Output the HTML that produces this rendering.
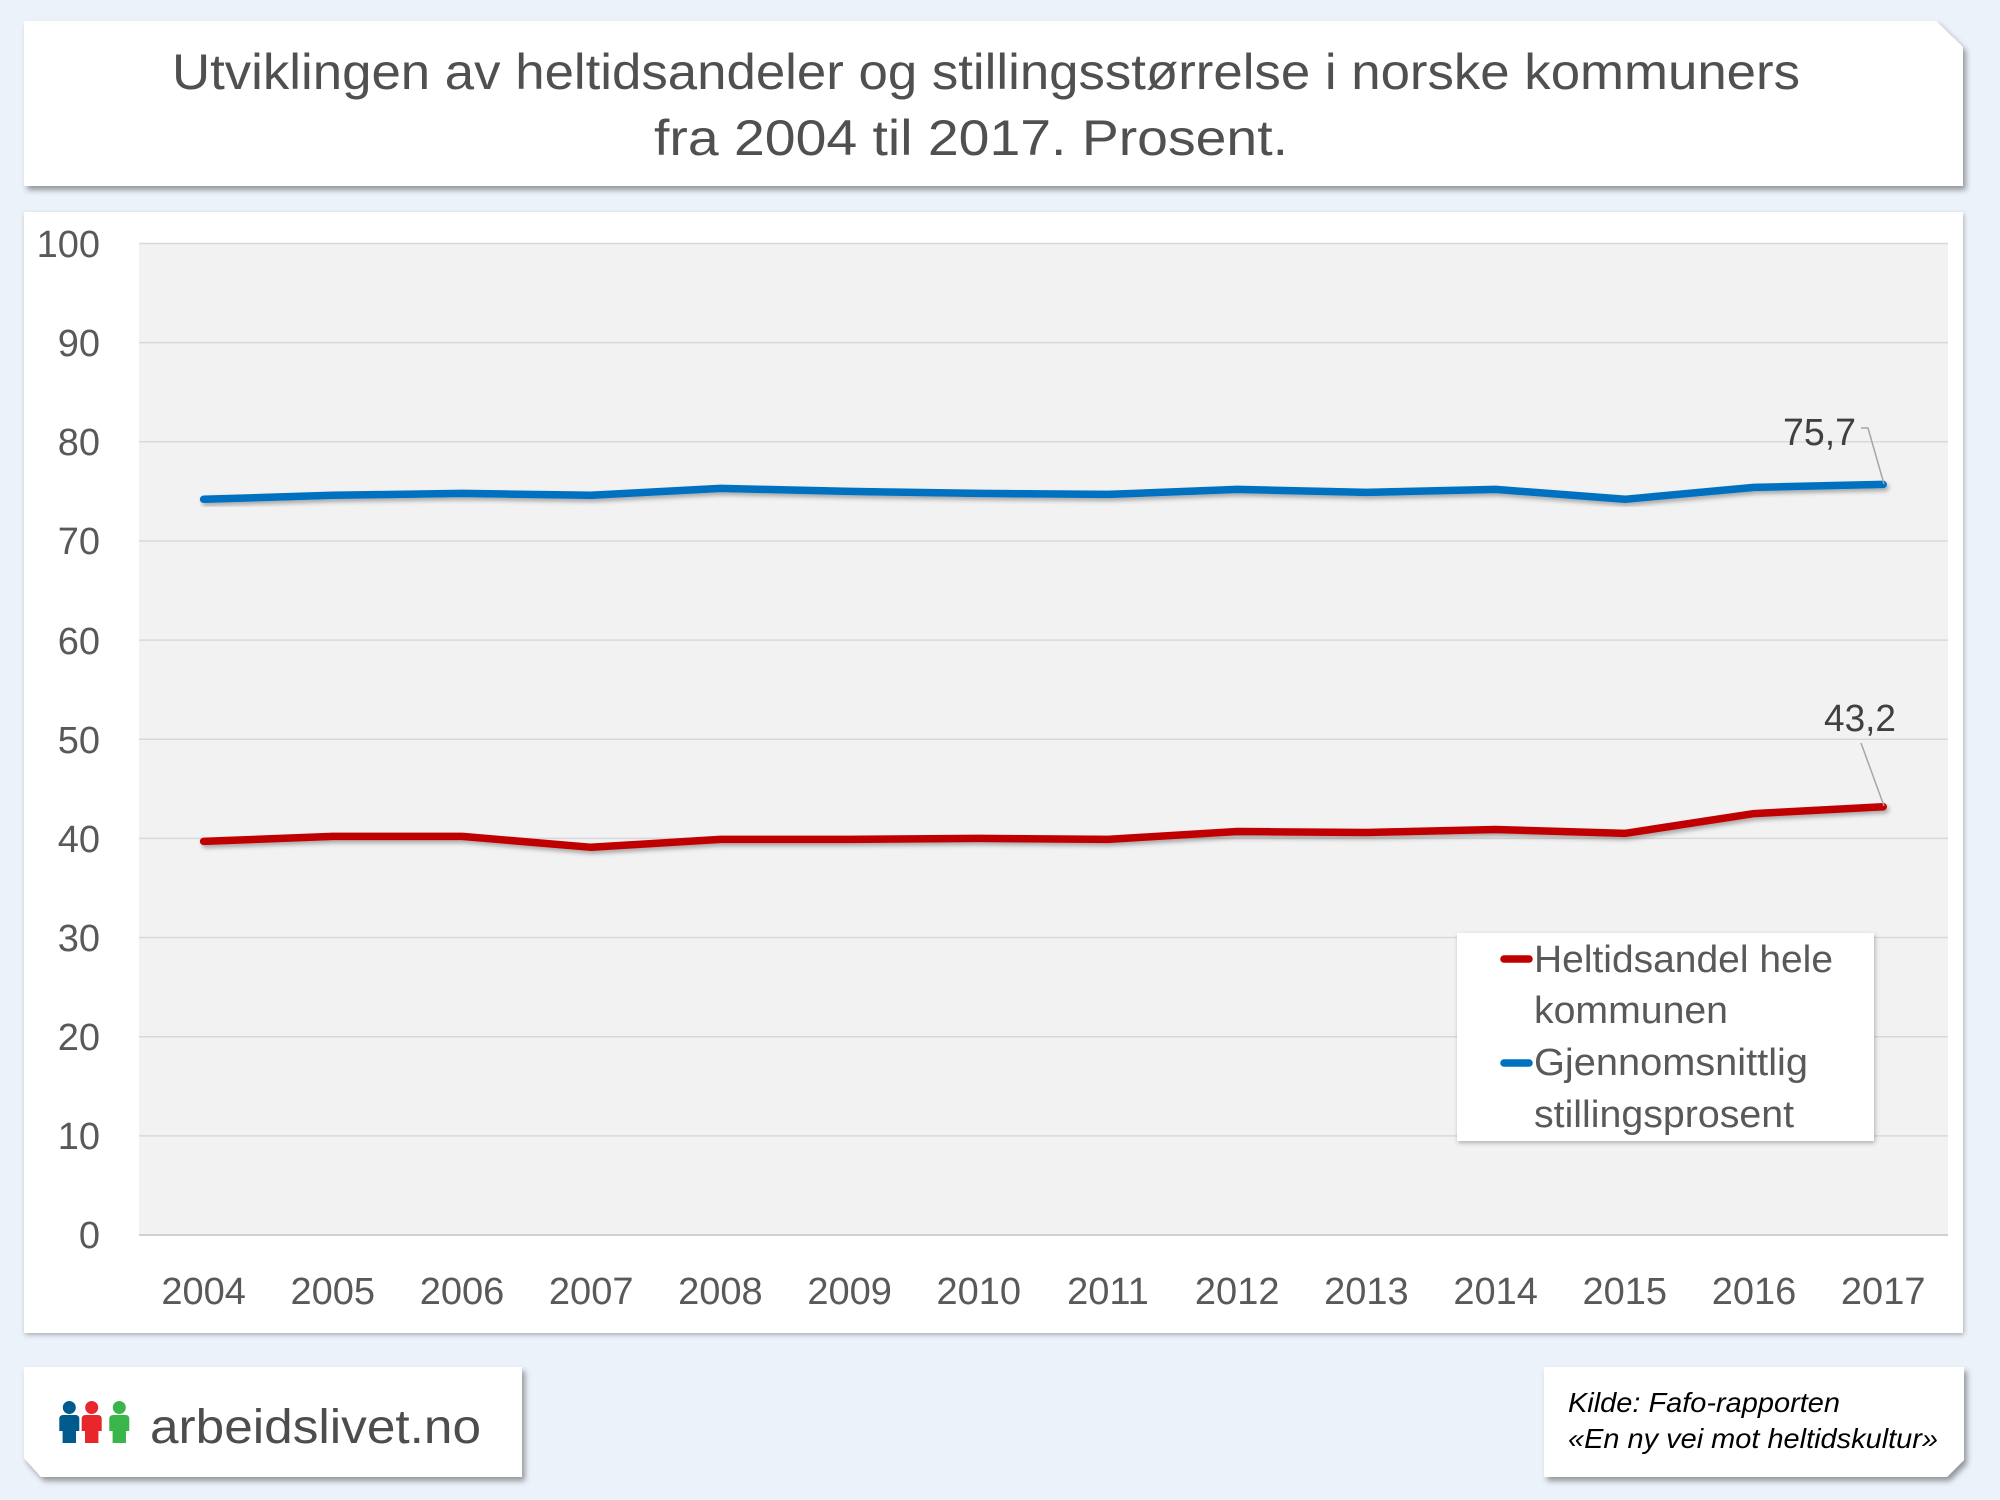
<!DOCTYPE html>
<html>
<head>
<meta charset="utf-8">
<style>
  html,body{margin:0;padding:0;background:#ECF2FA;}
  svg{display:block;}
  text{font-family:"Liberation Sans", sans-serif;}
</style>
</head>
<body>
<svg width="2000" height="1500" viewBox="0 0 2000 1500" xmlns="http://www.w3.org/2000/svg">
  <defs>
    <filter id="cardShadow" x="-5%" y="-10%" width="110%" height="130%">
      <feDropShadow dx="3" dy="4" stdDeviation="3" flood-color="#000" flood-opacity="0.38"/>
    </filter>
    <filter id="softShadow" x="-5%" y="-5%" width="110%" height="110%">
      <feDropShadow dx="1" dy="2" stdDeviation="2.5" flood-color="#000" flood-opacity="0.28"/>
    </filter>
    <filter id="lineShadow" x="-5%" y="-50%" width="110%" height="200%">
      <feDropShadow dx="2" dy="3" stdDeviation="2" flood-color="#000" flood-opacity="0.3"/>
    </filter>
  </defs>

  <rect x="0" y="0" width="2000" height="1500" fill="#ECF2FA"/>

  <!-- Title card -->
  <path d="M24,21 H1936 L1963,47 V186 H24 Z" fill="#FFFFFF" filter="url(#cardShadow)"/>
  <text x="172" y="89" font-size="50" fill="#505050" textLength="1628" lengthAdjust="spacingAndGlyphs">Utviklingen av heltidsandeler og stillingsstørrelse i norske kommuners</text>
  <text x="654" y="155" font-size="50" fill="#505050" textLength="634" lengthAdjust="spacingAndGlyphs">fra 2004 til 2017. Prosent.</text>

  <!-- Chart card -->
  <rect x="24" y="212" width="1939" height="1121" fill="#FFFFFF" filter="url(#softShadow)"/>

  <!-- Plot area -->
  <rect x="139" y="243.5" width="1809" height="991.5" fill="#F2F2F2"/>
  <g stroke="#D9D9D9" stroke-width="1.5">
    <line x1="139" x2="1948" y1="243.5" y2="243.5"/>
    <line x1="139" x2="1948" y1="342.65" y2="342.65"/>
    <line x1="139" x2="1948" y1="441.8" y2="441.8"/>
    <line x1="139" x2="1948" y1="540.95" y2="540.95"/>
    <line x1="139" x2="1948" y1="640.1" y2="640.1"/>
    <line x1="139" x2="1948" y1="739.25" y2="739.25"/>
    <line x1="139" x2="1948" y1="838.4" y2="838.4"/>
    <line x1="139" x2="1948" y1="937.55" y2="937.55"/>
    <line x1="139" x2="1948" y1="1036.7" y2="1036.7"/>
    <line x1="139" x2="1948" y1="1135.85" y2="1135.85"/>
  </g>
  <line x1="139" x2="1948" y1="1235" y2="1235" stroke="#D0D0D0" stroke-width="2"/>

  <!-- Y labels -->
  <g font-size="38" fill="#595959" text-anchor="end">
    <text x="100" y="257">100</text>
    <text x="100" y="356">90</text>
    <text x="100" y="455">80</text>
    <text x="100" y="554">70</text>
    <text x="100" y="654">60</text>
    <text x="100" y="753">50</text>
    <text x="100" y="852">40</text>
    <text x="100" y="951">30</text>
    <text x="100" y="1050">20</text>
    <text x="100" y="1149">10</text>
    <text x="100" y="1248">0</text>
  </g>

  <!-- X labels -->
  <g font-size="38" fill="#595959" text-anchor="middle">
    <text x="203.6" y="1304">2004</text>
    <text x="332.8" y="1304">2005</text>
    <text x="462.0" y="1304">2006</text>
    <text x="591.2" y="1304">2007</text>
    <text x="720.4" y="1304">2008</text>
    <text x="849.6" y="1304">2009</text>
    <text x="978.8" y="1304">2010</text>
    <text x="1108.0" y="1304">2011</text>
    <text x="1237.2" y="1304">2012</text>
    <text x="1366.4" y="1304">2013</text>
    <text x="1495.6" y="1304">2014</text>
    <text x="1624.8" y="1304">2015</text>
    <text x="1754.0" y="1304">2016</text>
    <text x="1883.2" y="1304">2017</text>
  </g>

  <!-- Series -->
  <polyline fill="none" stroke="#0070C0" stroke-width="7.5" stroke-linejoin="round" stroke-linecap="round" filter="url(#lineShadow)"
    points="203.6,499.3 332.8,495.3 462.0,493.4 591.2,495.3 720.4,488.4 849.6,491.4 978.8,493.4 1108.0,494.4 1237.2,489.4 1366.4,492.4 1495.6,489.4 1624.8,499.3 1754.0,487.4 1883.2,484.4"/>
  <polyline fill="none" stroke="#C00000" stroke-width="7.5" stroke-linejoin="round" stroke-linecap="round" filter="url(#lineShadow)"
    points="203.6,841.4 332.8,836.4 462.0,836.4 591.2,847.3 720.4,839.4 849.6,839.4 978.8,838.4 1108.0,839.4 1237.2,831.5 1366.4,832.5 1495.6,829.5 1624.8,833.4 1754.0,813.6 1883.2,806.7"/>

  <!-- Data labels and leader lines -->
  <polyline fill="none" stroke="#A6A6A6" stroke-width="1.5" points="1861,428 1868,428 1884,484"/>
  <line x1="1861" y1="743" x2="1884" y2="806" stroke="#A6A6A6" stroke-width="1.5"/>
  <g font-size="38" fill="#404040">
    <text x="1783" y="445" textLength="73" lengthAdjust="spacingAndGlyphs">75,7</text>
    <text x="1824" y="731" textLength="72" lengthAdjust="spacingAndGlyphs">43,2</text>
  </g>

  <!-- Legend -->
  <rect x="1457" y="933" width="417" height="208" fill="#FFFFFF" filter="url(#softShadow)"/>
  <line x1="1504" y1="959" x2="1529" y2="959" stroke="#C00000" stroke-width="7.5" stroke-linecap="round"/>
  <line x1="1504" y1="1063" x2="1529" y2="1063" stroke="#0070C0" stroke-width="7.5" stroke-linecap="round"/>
  <g font-size="38" fill="#595959">
    <text x="1534" y="972" textLength="299" lengthAdjust="spacingAndGlyphs">Heltidsandel hele</text>
    <text x="1534" y="1023" textLength="194" lengthAdjust="spacingAndGlyphs">kommunen</text>
    <text x="1534" y="1075" textLength="274" lengthAdjust="spacingAndGlyphs">Gjennomsnittlig</text>
    <text x="1534" y="1127" textLength="260" lengthAdjust="spacingAndGlyphs">stillingsprosent</text>
  </g>

  <!-- Logo card -->
  <path d="M24,1367 H522 V1477 H41 L24,1458 Z" fill="#FFFFFF" filter="url(#cardShadow)"/>
  <g>
    <circle cx="69.3" cy="1407.5" r="6.5" fill="#005A8C"/>
    <path d="M59.3,1419 Q59.3,1415 63.3,1415 H75.3 Q79.3,1415 79.3,1419 V1431 H76 V1443 H62.6 V1431 H59.3 Z" fill="#005A8C"/>
    <circle cx="91.7" cy="1407.5" r="6.5" fill="#E8262B"/>
    <path d="M81.7,1419 Q81.7,1415 85.7,1415 H97.7 Q101.7,1415 101.7,1419 V1431 H98.4 V1443 H85 V1431 H81.7 Z" fill="#E8262B"/>
    <circle cx="119.3" cy="1407.5" r="6.5" fill="#39B54A"/>
    <path d="M109.3,1419 Q109.3,1415 113.3,1415 H125.3 Q129.3,1415 129.3,1419 V1431 H126 V1443 H112.6 V1431 H109.3 Z" fill="#39B54A"/>
  </g>
  <text x="150" y="1443" font-size="48" fill="#4D4D4F" textLength="331" lengthAdjust="spacingAndGlyphs">arbeidslivet.no</text>

  <!-- Source card -->
  <path d="M1544,1367 H1964 V1460 L1947,1477 H1544 Z" fill="#FFFFFF" filter="url(#cardShadow)"/>
  <g font-size="28" font-style="italic" fill="#000000">
    <text x="1568" y="1412" textLength="272" lengthAdjust="spacingAndGlyphs">Kilde: Fafo-rapporten</text>
    <text x="1568" y="1448" textLength="370" lengthAdjust="spacingAndGlyphs">«En ny vei mot heltidskultur»</text>
  </g>
</svg>
</body>
</html>
